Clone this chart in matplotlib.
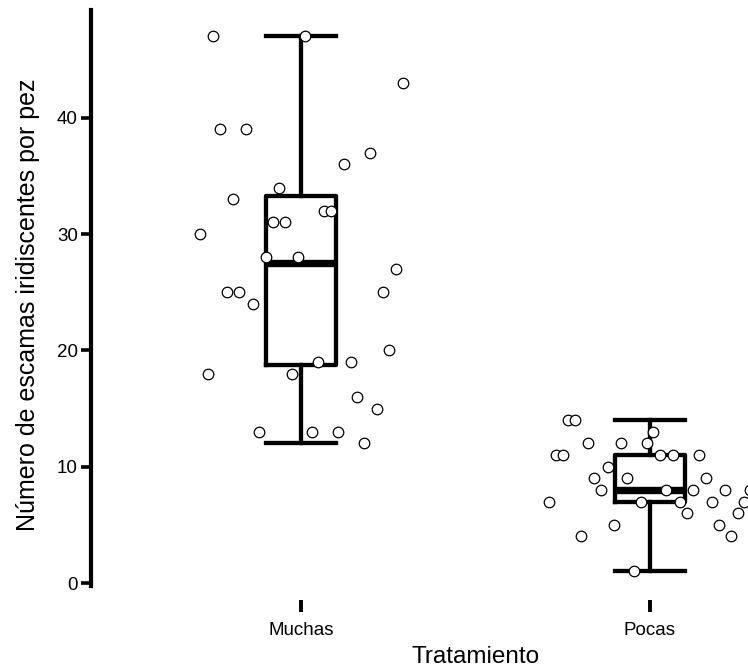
import matplotlib.pyplot as plt

plt.rcParams['font.family'] = ['Liberation Sans', 'DejaVu Sans']

groups = ["Muchas", "Pocas"]

# escamas iridiscentes contadas por pez
muchas = [47, 47, 43, 39, 39, 37, 36, 34, 33, 32, 32, 31, 31, 30, 28, 28,
          27, 25, 25, 25, 24, 20, 19, 19, 18, 18, 16, 15, 13, 13, 13, 12]
pocas = [14, 14, 13, 12, 12, 12, 11, 11, 11, 11, 11, 10, 9, 9, 9, 8,
         8, 8, 8, 8, 7, 7, 7, 7, 7, 6, 6, 5, 5, 4, 4, 1]

# desplazamiento horizontal (jitter) de cada punto
muchas_jit = [-0.251, 0.011, 0.291, -0.232, -0.158, 0.198, 0.124, -0.063,
              -0.194, 0.066, 0.086, -0.081, -0.045, -0.289, -0.101, -0.008,
              0.272, -0.213, -0.177, 0.236, -0.138, 0.253, 0.049, 0.142,
              -0.268, -0.026, 0.161, 0.217, -0.120, 0.031, 0.106, 0.180]
pocas_jit = [-0.234, -0.215, 0.009, -0.179, -0.083, -0.009, -0.269, -0.250,
             0.029, 0.067, 0.141, -0.121, -0.160, -0.065, 0.160, -0.141,
             0.046, 0.122, 0.215, 0.287, -0.289, -0.027, 0.086, 0.179,
             0.270, 0.105, 0.253, -0.102, 0.198, -0.198, 0.232, -0.046]

yticks = [0, 10, 20, 30, 40]

fig = plt.figure(figsize=(7.48, 6.70), dpi=100)
ax = fig.add_axes([91 / 748, 70 / 670, 657 / 748, 590 / 670])

data = [muchas, pocas]
jits = [muchas_jit, pocas_jit]
pos = [1, 2]

ax.boxplot(data, positions=pos, widths=0.2, capwidths=0.2, showfliers=False,
           boxprops=dict(color="black", linewidth=3.1),
           whiskerprops=dict(color="black", linewidth=3.1),
           capprops=dict(color="black", linewidth=3.1),
           medianprops=dict(color="black", linewidth=5.3, solid_capstyle="butt"))

for p, vals, jit in zip(pos, data, jits):
    xs = [p + j for j in jit]
    ax.plot(xs, vals, "o", ms=7.6, mfc="white", mec="black", mew=0.9,
            zorder=5)

ax.set_xlim(0.398, 2.281)
ax.set_ylim(-1.46, 49.27)
ax.set_xticks(pos)
ax.set_xticklabels(groups)
ax.set_yticks(yticks)

for s in ["top", "right", "bottom"]:
    ax.spines[s].set_visible(False)
ax.spines["left"].set_linewidth(3)
ax.spines["left"].set_bounds(-0.26, 49.27)

ax.tick_params(axis="y", length=7.5, width=2.6, labelsize=13.5, pad=2)
ax.tick_params(axis="x", length=8.5, width=2.8, labelsize=13.5, pad=7.5)

ax.set_xlabel("Tratamiento", fontsize=17.5)
ax.xaxis.set_label_coords(0.586, -0.078)
ax.set_ylabel("Número de escamas iridiscentes por pez", fontsize=18,
              labelpad=12)

fig.savefig("out.png", dpi=100)
